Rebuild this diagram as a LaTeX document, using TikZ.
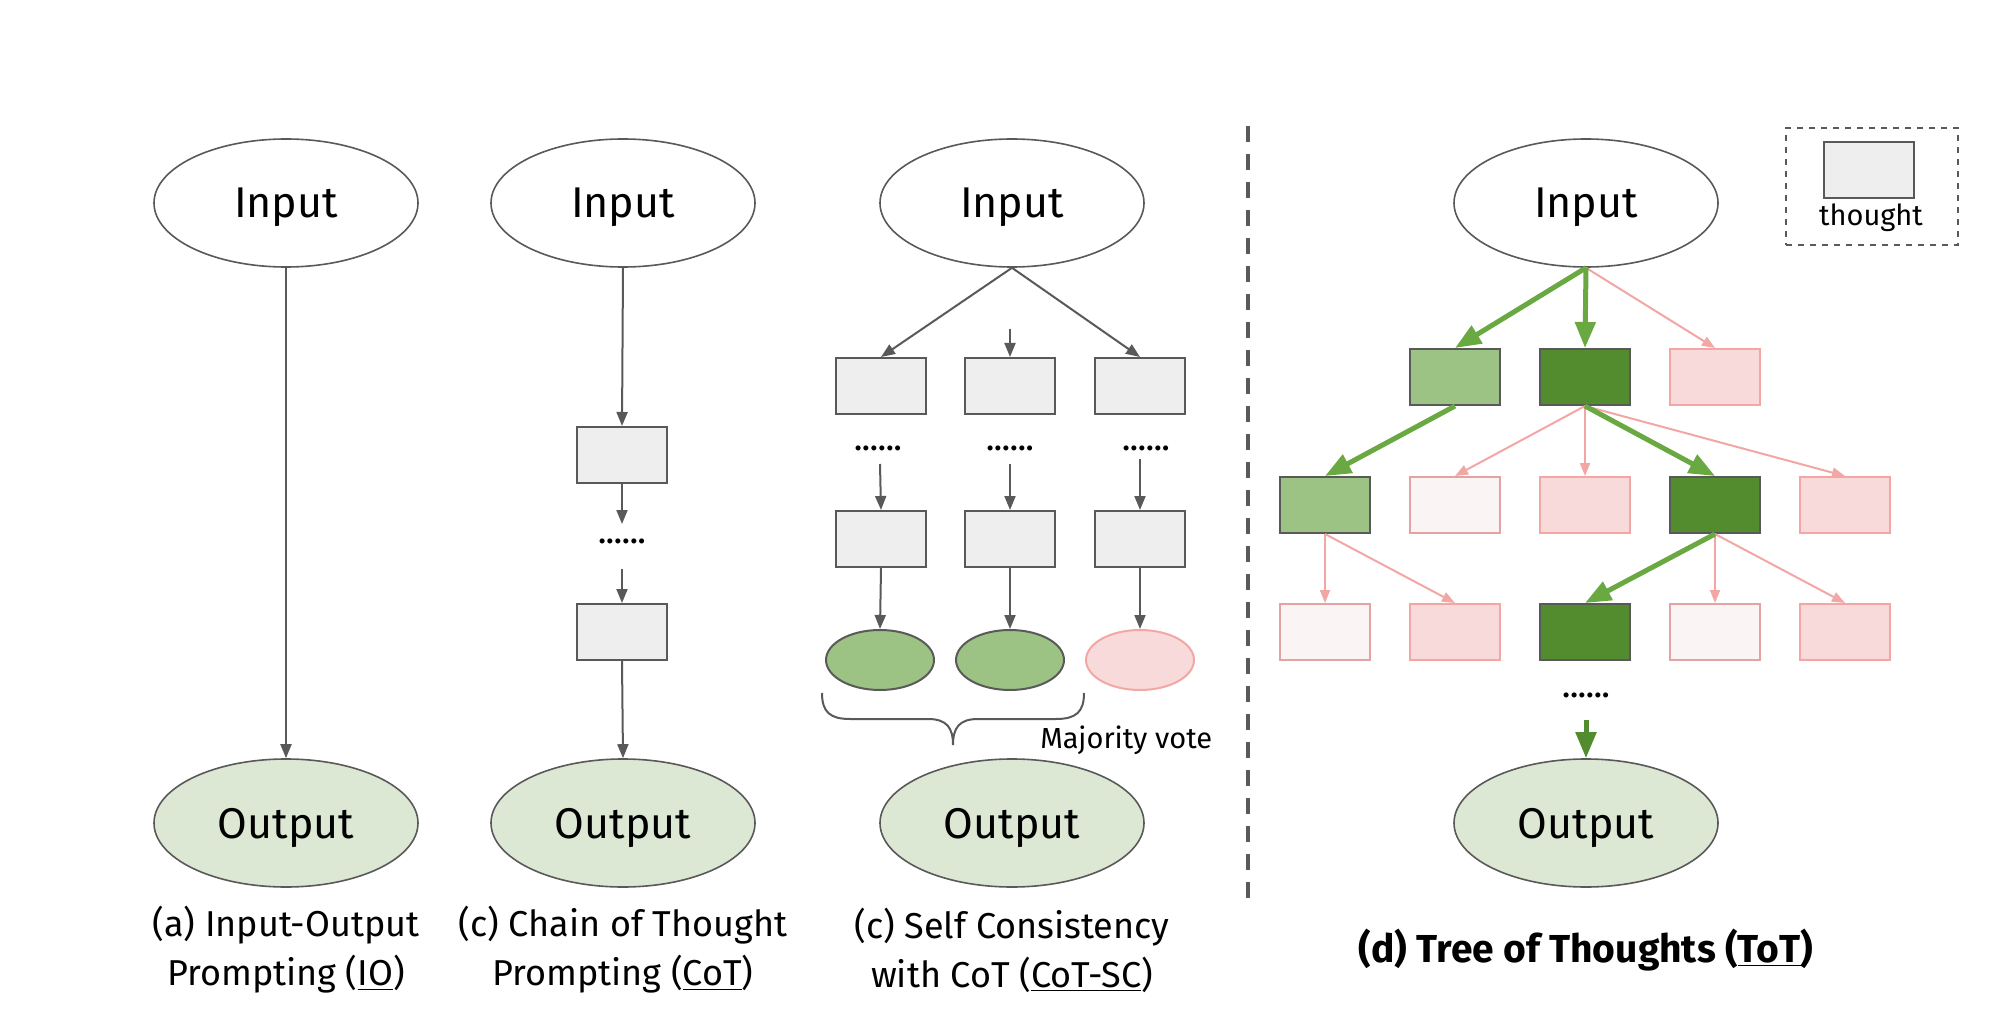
\documentclass[tikz,border=0pt]{standalone}
\usepackage{fontspec}
\setmainfont{Fira Sans}
\usetikzlibrary{arrows.meta,shapes.geometric}
\definecolor{gborder}{HTML}{595959}
\definecolor{gfill}{HTML}{EEEEEE}
\definecolor{lgreen}{HTML}{9DC384}
\definecolor{dgreen}{HTML}{538B2F}
\definecolor{pinkfill}{HTML}{F8DADA}
\definecolor{pinkdraw}{HTML}{F2A7A5}
\definecolor{vlpinkfill}{HTML}{FBF4F4}
\definecolor{vlpinkdraw}{HTML}{E3A3A3}
\definecolor{outfill}{HTML}{DCE8D4}
\definecolor{garrow}{HTML}{6AA842}
\newcommand{\sixdots}{.\kern0.6pt.\kern0.6pt.\kern0.6pt.\kern0.6pt.\kern0.6pt.}
\tikzset{
  big/.style={ellipse,draw=gborder,line width=0.8pt,minimum width=132pt,minimum height=64pt,inner sep=0pt,text depth=0pt,font=\fontsize{21.5}{24}\selectfont},
  inp/.style={big,fill=white},
  outp/.style={big,fill=outfill},
  thbox/.style={rectangle,draw=gborder,line width=1pt,fill=gfill,minimum width=45pt,minimum height=28pt,inner sep=0pt},
  lgbox/.style={thbox,fill=lgreen},
  dgbox/.style={thbox,fill=dgreen},
  pkbox/.style={thbox,draw=pinkdraw,fill=pinkfill},
  vpbox/.style={thbox,draw=vlpinkdraw,fill=vlpinkfill},
  smallell/.style={ellipse,draw=gborder,line width=1pt,minimum width=54pt,minimum height=30pt,inner sep=0pt},
  dots/.style={inner sep=0pt,font=\fontsize{14}{14}\selectfont\bfseries},
  garr/.style={draw=gborder,line width=1pt,-{Triangle[length=7pt,width=5.5pt]}},
  parr/.style={draw=pinkdraw,line width=1pt,-{Triangle[length=6.5pt,width=5pt]}},
  grarr/.style={draw=garrow,line width=2.5pt,-{Triangle[length=13pt,width=10pt]}},
  dgarr/.style={draw=dgreen,line width=2.5pt,-{Triangle[length=13pt,width=10pt]}},
  capt/.style={align=center,inner sep=0pt,font=\fontsize{18}{24.5}\selectfont},
}
\begin{document}
\begin{tikzpicture}[x=0.5pt,y=-0.5pt]
\useasboundingbox (0,0) rectangle (2014,1032);
% ---------- (a) IO
\node[inp] (ainp) at (286,203) {Input};
\node[outp] (aout) at (286,823) {Output};
\draw[garr] (ainp.south) -- (aout.north);
\node[capt] (acap) at (286,950) {(a) Input-Output\\Prompting (\underline{IO})};
% ---------- (b) CoT
\node[inp] (binp) at (623,203) {Input};
\node[thbox] (bb1) at (622,455) {};
\node[dots] (bdots) at (622,541) {\sixdots};
\node[thbox] (bb2) at (622,632) {};
\node[outp] (bout) at (623,823) {Output};
\coordinate (bd1) at (622,524);
\coordinate (bd2) at (622,569);
\draw[garr] (binp.south) -- (bb1.north);
\draw[garr] (bb1.south) -- (bd1);
\draw[garr] (bd2) -- (bb2.north);
\draw[garr] (bb2.south) -- (bout.north);
\node[capt] (bcap) at (623,950) {(c) Chain of Thought\\Prompting (\underline{CoT})};
% ---------- (c) CoT-SC
\node[inp] (cinp) at (1012,203) {Input};
\foreach \i/\x in {1/881,2/1010,3/1140}{
  \node[thbox] (cr1\i) at (\x,386) {};
  \node[thbox] (cr2\i) at (\x,539) {};
}
\node[dots] (cd1) at (878,448) {\sixdots};
\node[dots] (cd2) at (1010,448) {\sixdots};
\node[dots] (cd3) at (1146,448) {\sixdots};
\node[smallell,fill=lgreen] (ce1) at (880,660) {};
\node[smallell,fill=lgreen] (ce2) at (1010,660) {};
\node[smallell,draw=pinkdraw,fill=pinkfill] (ce3) at (1140,660) {};
\coordinate (cm) at (1010,329);
\draw[garr] (cinp.south) -- (cr11.north);
\draw[garr] (cm) -- (cr12.north);
\draw[garr] (cinp.south) -- (cr13.north);
\coordinate (ca1) at (880,464);
\coordinate (ca2) at (1010,464);
\coordinate (ca3) at (1140,459);
\draw[garr] (ca1) -- (cr21.north);
\draw[garr] (ca2) -- (cr22.north);
\draw[garr] (ca3) -- (cr23.north);
\draw[garr] (cr21.south) -- (ce1.north);
\draw[garr] (cr22.south) -- (ce2.north);
\draw[garr] (cr23.south) -- (ce3.north);
\draw[gborder,line width=1pt] (822,693) .. controls (822,712) and (830,719) .. (850,719) -- (928,719) .. controls (947,719) and (953,728) .. (953,745)
  .. controls (953,728) and (959,719) .. (978,719) -- (1056,719) .. controls (1076,719) and (1084,712) .. (1084,693);
\node[anchor=base west,inner sep=0pt,font=\fontsize{14.5}{16}\selectfont] (mv) at (1040,748) {Majority vote};
\node[outp] (cout) at (1012,823) {Output};
\node[capt] (ccap) at (1012,950) {(c) Self Consistency\\with CoT (\underline{CoT-SC})};
% ---------- divider
\draw[gborder,line width=2pt,dash pattern=on 8pt off 6pt] (1248,126) -- (1248,899);
% ---------- legend
\node[draw=gborder,dashed,line width=0.8pt,minimum width=86pt,minimum height=58.5pt,inner sep=0pt] (leg) at (1872,186.5) {};
\node[thbox] (legbox) at (1869,170) {};
\node[inner sep=0pt,font=\fontsize{14.5}{16}\selectfont] (legt) at (1871,218) {thought};
% ---------- (d) ToT
\node[inp] (dinp) at (1586,203) {Input};
\node[lgbox] (r11) at (1455,377) {};
\node[dgbox] (r12) at (1585,377) {};
\node[pkbox] (r13) at (1715,377) {};
\node[lgbox] (r21) at (1325,505) {};
\node[vpbox] (r22) at (1455,505) {};
\node[pkbox] (r23) at (1585,505) {};
\node[dgbox] (r24) at (1715,505) {};
\node[pkbox] (r25) at (1845,505) {};
\node[vpbox] (r31) at (1325,632) {};
\node[pkbox] (r32) at (1455,632) {};
\node[dgbox] (r33) at (1585,632) {};
\node[vpbox] (r34) at (1715,632) {};
\node[pkbox] (r35) at (1845,632) {};
\node[dots] (ddots) at (1586,695) {\sixdots};
\node[outp] (dout) at (1586,823) {Output};
\draw[parr] (dinp.south) -- (r13.north);
\draw[grarr] (dinp.south) -- (r11.north);
\draw[grarr] (dinp.south) -- (r12.north);
\draw[grarr] (r11.south) -- (r21.north);
\draw[parr] (r12.south) -- (r22.north);
\draw[parr] (r12.south) -- (r23.north);
\draw[parr] (r12.south) -- (r25.north);
\draw[grarr] (r12.south) -- (r24.north);
\draw[parr] (r21.south) -- (r31.north);
\draw[parr] (r21.south) -- (r32.north);
\draw[parr] (r24.south) -- (r34.north);
\draw[parr] (r24.south) -- (r35.north);
\draw[grarr] (r24.south) -- (r33.north);
\coordinate (dd) at (1586,720);
\draw[dgarr] (dd) -- (dout.north);
\node[inner sep=0pt,font=\fontsize{19.5}{22}\selectfont\bfseries] (dcap) at (1586,950) {(d) Tree of Thoughts (\underline{ToT})};
\end{tikzpicture}
\end{document}
